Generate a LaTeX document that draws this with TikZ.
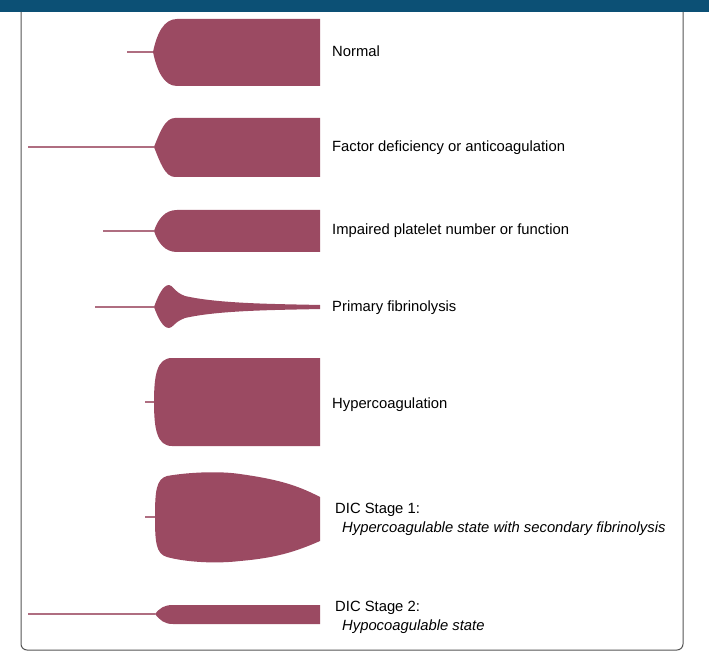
\documentclass[tikz,border=0pt]{standalone}
\usepackage{fontspec}
\setmainfont{Liberation Sans}
\usetikzlibrary{positioning}
\definecolor{clot}{RGB}{155,74,98}
\definecolor{topbar}{RGB}{12,80,117}
\definecolor{frame}{RGB}{85,85,85}

\begin{document}
\begin{tikzpicture}[
                x=1pt, y=-1pt,
                clot/.style={fill=clot, draw=none},
                stem/.style={draw=clot!80, line width=1.2pt},
                lab/.style={anchor=base west, inner sep=0pt, font=\fontsize{14.8}{19}\selectfont, align=left}
            ]
                \useasboundingbox (0,0) rectangle (709,660);

% frame
                \fill[topbar] (0,0) rectangle (709,12);
                \draw[frame, line width=1pt, rounded corners=6pt] (21,12) -- (21,650) -- (683,650) -- (683,12);

% tips
                \coordinate (n) at (153,52);
                \coordinate (f) at (154,147);
                \coordinate (p) at (154,231);
                \coordinate (l) at (154,307);
                \coordinate (h) at (154,402);
                \coordinate (d) at (155,517);
                \coordinate (e) at (155,614);

% stem ends
                \coordinate (n0) at (127,52);
                \coordinate (f0) at (28,147);
                \coordinate (p0) at (103,231);
                \coordinate (l0) at (95,307);
                \coordinate (h0) at (145,402);
                \coordinate (d0) at (145,517);
                \coordinate (e0) at (28,614);

% stems
                \draw[stem] (n0)--(n);
                \draw[stem] (f0)--(f);
                \draw[stem] (p0)--(p);
                \draw[stem] (l0)--(l);
                \draw[stem] (h0)--(h);
                \draw[stem] (d0)--(d);
                \draw[stem] (e0)--(e);

% shapes
                \fill[clot] (n) .. controls (157,33) and (164,19) .. (177,19) -- (320,19) -- (320,86) -- (177,86) .. controls (164,86) and (157,71) .. (n) -- cycle;
                \fill[clot] (f) .. controls (160,132) and (165,118) .. (175,118) -- (320,118) -- (320,177) -- (175,177) .. controls (165,177) and (160,162) .. (f) -- cycle;
                \fill[clot] (p) .. controls (158,219) and (165,210) .. (177,210) -- (320,210) -- (320,252) -- (177,252) .. controls (165,252) and (158,243) .. (p) -- cycle;
                \fill[clot] (l) .. controls (158,296) and (163,285) .. (169,285) .. controls (173,285) and (174,292) .. (185,296) .. controls (220,304) and (280,304) .. (320,305) -- (320,309) .. controls (280,310) and (220,310) .. (185,318) .. controls (174,322) and (173,328) .. (169,328) .. controls (163,328) and (158,318) .. (l) -- cycle;
                \fill[clot] (h) .. controls (154,375) and (157,358) .. (172,358) -- (320,358) -- (320,446) -- (172,446) .. controls (157,446) and (154,429) .. (h) -- cycle;
                \fill[clot] (d) .. controls (155,492) and (156,479) .. (167,476) .. controls (190,472) and (220,471) .. (240,474) .. controls (275,479) and (295,484) .. (320,497) -- (320,541) .. controls (295,552) and (275,558) .. (240,561) .. controls (215,564) and (185,562) .. (167,557) .. controls (156,554) and (155,542) .. (d) -- cycle;
                \fill[clot] (e) .. controls (160,608) and (164,605) .. (173,605) -- (320,605) -- (320,624) -- (173,624) .. controls (164,624) and (160,620) .. (e) -- cycle;

% labels
                \node[lab] (normal) at (332,57) {Normal};
                \node[lab] (factor) at (332,152) {Factor deficiency or anticoagulation};
                \node[lab] (platelet) at (332,235) {Impaired platelet number or function};
                \node[lab] (lysis) at (332,311) {Primary fibrinolysis};
                \node[lab] (hyper) at (332,408) {Hypercoagulation};
                \node[lab] (dic1) at (335,532) {DIC Stage 1:\\\hspace{7pt}\textit{Hypercoagulable state with secondary fibrinolysis}};
                \node[lab] (dic2) at (335,630) {DIC Stage 2:\\\hspace{7pt}\textit{Hypocoagulable state}};

            \end{tikzpicture}
\end{document}
